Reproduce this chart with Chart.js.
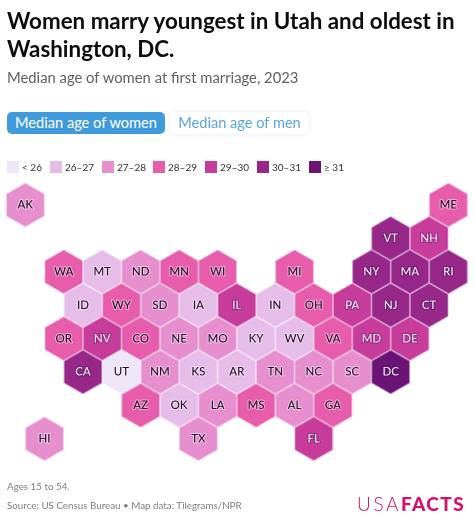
<!DOCTYPE html>
<html>
<head>
<meta charset="utf-8">
<title>Median age at first marriage</title>
<script src="https://cdn.jsdelivr.net/npm/chart.js@4"></script>
<style>
  html, body { margin: 0; padding: 0; background: #fff; }
  body { width: 474px; height: 520px; position: relative; overflow: hidden; font-family: Lato, sans-serif; }
  #mapa { position: absolute; left: 0; top: 0; width: 474px; height: 520px; }
  .txt { position: absolute; white-space: nowrap; }
  #titulo { left: 7px; top: 7px; font-size: 22.35px; line-height: 27.5px; font-weight: 700; color: #0d0d0d; }
  #sub { left: 7px; top: 68px; font-size: 14.8px; color: #5f5f5f; }
  .btn { position: absolute; top: 112px; height: 22px; line-height: 22px; font-size: 14.6px; text-align: center; border-radius: 5px; }
  #btn-w { left: 7px; width: 158px; background: #3f9bdc; color: #fff; }
  #btn-m { left: 170px; width: 139px; background: #fff; color: #5aa5de; box-shadow: 0 0 4px #e6e6e6; }
  #legenda .cx { position: absolute; top: 161px; width: 12px; height: 12px; }
  #legenda .rot { position: absolute; top: 158px; font-size: 10px; line-height: 18px; color: #333; white-space: nowrap; }
  #nota { left: 7px; top: 480px; font-size: 9.8px; color: #808080; }
  #fonte { left: 7px; top: 499px; font-size: 9.8px; color: #808080; }
  #logo { left: 357px; top: 493px; font-size: 19px; line-height: 22px; color: #d5116e; }
  #logo span { font-weight: 300; letter-spacing: 2.6px; }
  #logo b { font-weight: 900; letter-spacing: 1.4px; }
</style>
</head>
<body>
<canvas id="mapa" width="474" height="520"></canvas>
<div class="txt" id="titulo">Women marry youngest in Utah and oldest in<br>Washington, DC.</div>
<div class="txt" id="sub">Median age of women at first marriage, 2023</div>
<div class="btn" id="btn-w">Median age of women</div>
<div class="btn" id="btn-m">Median age of men</div>
<div id="legenda"></div>
<div class="txt" id="nota">Ages 15 to 54.</div>
<div class="txt" id="fonte">Source: US Census Bureau • Map data: Tilegrams/NPR</div>
<div class="txt" id="logo"><span>USA</span><b>FACTS</b></div>
<script>
const estados = ['AK','ME','VT','NH','WA','MT','ND','MN','WI','MI','NY','MA','RI','ID','WY','SD','IA','IL','IN','OH','PA','NJ','CT','OR','NV','CO','NE','MO','KY','WV','VA','MD','DE','CA','UT','NM','KS','AR','TN','NC','SC','DC','AZ','OK','LA','MS','AL','GA','TX','FL','HI']
// posicao no tilegram (coluna em meio-hexagono, linha)
const colunas = [0,22,19,21,2,4,6,8,10,14,18,20,22,3,5,7,9,11,13,15,17,19,21,2,4,6,8,10,12,14,16,18,20,3,5,7,9,11,13,15,17,19,6,8,10,12,14,16,9,15,1]
const linhas  = [0,0,1,1,2,2,2,2,2,2,2,2,2,3,3,3,3,3,3,3,3,3,3,4,4,4,4,4,4,4,4,4,4,5,5,5,5,5,5,5,5,5,6,6,6,6,6,6,7,7,7]
// mediana estimada pela faixa de cor do mapa
const idades  = [27.5,28.5,30.5,29.5,28.5,26.5,27.5,28.5,28.5,28.5,30.5,30.5,30.5,26.5,28.5,27.5,26.5,29.5,26.5,28.5,29.5,30.5,30.5,28.5,29.5,28.5,27.5,27.5,26.5,26.5,28.5,29.5,29.5,30.5,25.5,27.5,26.5,26.5,27.5,27.5,27.5,31.5,28.5,26.5,27.5,28.5,27.5,28.5,27.5,29.5,27.5]

const faixas = ['< 26','26–27','27–28','28–29','29–30','30–31','≥ 31']
const limites = [26,27,28,29,30,31]
const cores = ['#efe6f8','#e6bde8','#e78fce','#e85dab','#c83c9c','#97288a','#6b1377']
const legendaX = [7,50,102,153,205,257,309]

const faixaDe = v => { const i = limites.findIndex(l => v < l); return i < 0 ? limites.length : i }

// Legenda
const legenda = document.getElementById('legenda')
faixas.forEach((f, i) => {
  legenda.innerHTML += `<div class="cx" style="left:${legendaX[i]}px;background:${cores[i]}"></div><div class="rot" style="left:${legendaX[i] + 15}px">${f}</div>`
})

// Hexagono como pointStyle (o Chart.js desenha o canvas no tamanho natural)
function hexagono(cor) {
  const w = 39, h = 45
  const c = document.createElement('canvas')
  c.width = w; c.height = h
  const g = c.getContext('2d')
  g.beginPath()
  g.moveTo(w / 2, 0.4); g.lineTo(w - 0.4, 11.4); g.lineTo(w - 0.4, 33.6)
  g.lineTo(w / 2, 44.6); g.lineTo(0.4, 33.6); g.lineTo(0.4, 11.4)
  g.closePath()
  g.fillStyle = cor; g.fill()
  g.strokeStyle = 'rgba(255,255,255,0.55)'; g.lineWidth = 0.8; g.stroke()
  return c
}
const hexCores = cores.map(hexagono)

const rotulos = {
  id: 'rotulos',
  afterDatasetsDraw(chart) {
    const { ctx } = chart
    const meta = chart.getDatasetMeta(0)
    ctx.save()
    ctx.font = '500 11.5px Lato'
    ctx.textAlign = 'center'
    ctx.textBaseline = 'middle'
    ctx.lineJoin = 'round'
    meta.data.forEach((p, i) => {
      const f = faixaDe(idades[i])
      const escuro = f >= 5
      ctx.lineWidth = 2
      ctx.strokeStyle = escuro ? 'rgba(70,10,80,0.55)' : f === 4 ? 'rgba(90,20,90,0.5)' : 'rgba(255,255,255,0.5)'
      ctx.fillStyle = f >= 4 ? '#fdf3fa' : '#25102a'
      ctx.strokeText(estados[i], p.x, p.y)
      ctx.fillText(estados[i], p.x, p.y)
    })
    ctx.restore()
  }
}

// 1 coluna = 19.23px, 1 linha = 33.4px, origem em (25.3, 205)
new Chart(document.getElementById('mapa'), {
  type: 'scatter',
  data: {
    labels: estados,
    datasets: [{
      data: estados.map((e, i) => ({ x: colunas[i], y: linhas[i] })),
      pointStyle: idades.map(v => hexCores[faixaDe(v)]),
      pointRadius: 20,
      pointHoverRadius: 20
    }]
  },
  options: {
    responsive: false,
    animation: false,
    devicePixelRatio: 2,
    layout: { padding: 0, autoPadding: false },
    plugins: { legend: { display: false }, tooltip: { enabled: false } },
    scales: {
      x: { display: false, min: -25.3 / 19.23, max: (474 - 25.3) / 19.23 },
      y: { display: false, reverse: true, min: -205 / 33.4, max: (520 - 205) / 33.4 }
    }
  },
  plugins: [rotulos]
})
</script>
</body>
</html>
